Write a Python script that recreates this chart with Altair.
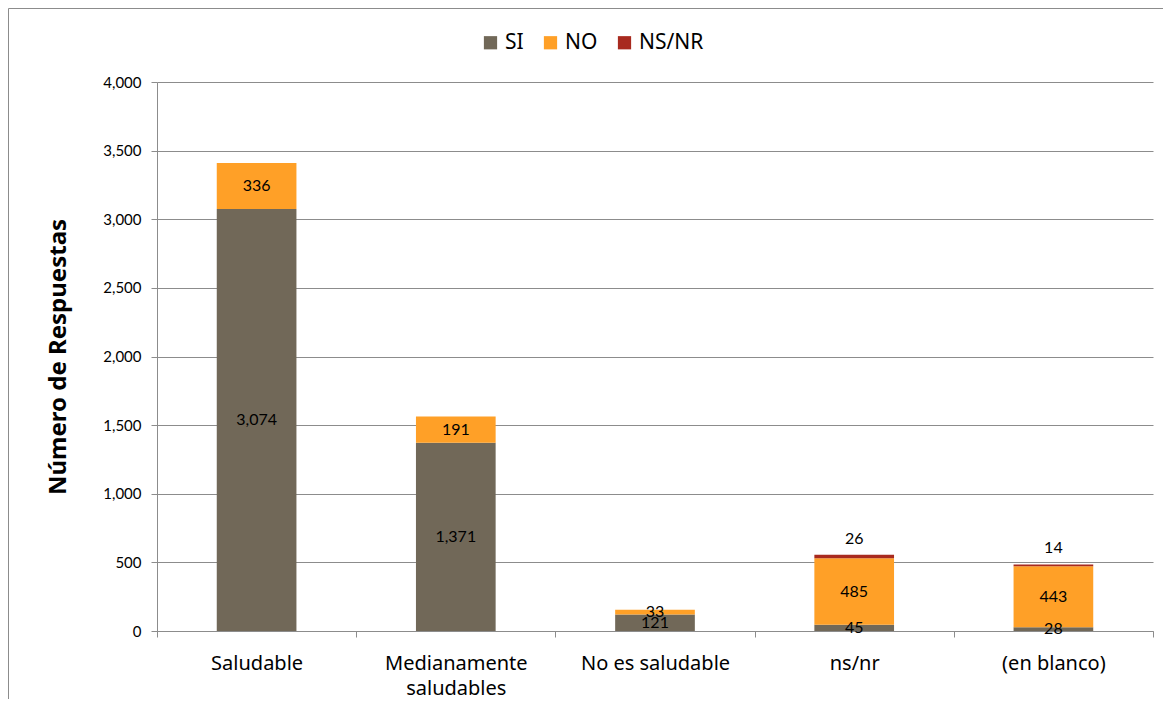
import altair as alt
import pandas as pd

categories = ["Saludable", "Medianamente\nsaludables", "No es saludable", "ns/nr", "(en blanco)"]
series = ["SI", "NO", "NS/NR"]
si_values = [3074, 1371, 121, 45, 28]
no_values = [336, 191, 33, 485, 443]
nsnr_values = [0, 0, 0, 26, 14]
y_ticks = [0, 500, 1000, 1500, 2000, 2500, 3000, 3500, 4000]
colors = ["#716858", "#FFA027", "#A82A1F"]

rows = []
for i, c in enumerate(categories):
    for j, (s, vals) in enumerate(zip(series, [si_values, no_values, nsnr_values])):
        if vals[i] > 0:
            rows.append({"cat": c, "serie": s, "valor": vals[i], "orden": j})
df = pd.DataFrame(rows)

gray = "#8c8c8c"

x_enc = alt.X(
    "cat:N",
    sort=categories,
    scale=alt.Scale(paddingInner=0, paddingOuter=0),
    axis=alt.Axis(
        title=None,
        labelAngle=0,
        tickBand="extent",
        labelExpr="split(datum.label, '\\n')",
        labelFontSize=20,
        labelFont="Noto Sans",
        labelColor="#000000",
        labelPadding=16,
        labelLineHeight=25,
        domainColor=gray,
        tickColor=gray,
        tickSize=6,
        labelBaseline="top",
    ),
)

bars = alt.Chart(df).mark_bar(width=alt.RelativeBandSize(0.4)).encode(
    x=x_enc,
    y=alt.Y(
        "valor:Q",
        stack="zero",
        scale=alt.Scale(domain=[0, 4000], nice=False),
        axis=alt.Axis(
            values=y_ticks,
            format=",d",
            title="Número de Respuestas",
            titleFont="Noto Sans",
            titleFontSize=24,
            titleFontWeight="bold",
            titleColor="#000000",
            titlePadding=32,
            labelFont="Lato",
            labelFontSize=15,
            labelColor="#000000",
            labelPadding=10,
            tickSize=6,
            tickColor=gray,
            domainColor=gray,
            gridColor=gray,
            gridOpacity=1,
        ),
    ),
    color=alt.Color(
        "serie:N",
        scale=alt.Scale(domain=series, range=colors),
        legend=alt.Legend(
            title=None,
            orient="none",
            direction="horizontal",
            legendX=323,
            legendY=-50,
            symbolType="square",
            symbolSize=175,
            symbolStrokeWidth=0,
            symbolOpacity=1,
            labelFontSize=21,
            labelFont="Noto Sans",
            labelColor="#000000",
            columnPadding=16,
            labelOffset=4,
        ),
    ),
    order=alt.Order("orden:Q"),
)

stacked = alt.Chart(df).transform_stack(
    stack="valor", groupby=["cat"], as_=["y0", "y1"], sort=[alt.SortField("orden")]
).transform_calculate(mid="(datum.y0 + datum.y1) / 2")

inner_labels = stacked.transform_filter("datum.serie != 'NS/NR'").mark_text(
    font="Lato", fontSize=16, color="#000000", baseline="middle"
).encode(
    x=alt.X("cat:N", sort=categories),
    y=alt.Y("mid:Q"),
    text=alt.Text("valor:Q", format=",d"),
)

top_labels = stacked.transform_filter("datum.serie == 'NS/NR'").mark_text(
    font="Lato", fontSize=16, color="#000000", baseline="middle", dy=-16
).encode(
    x=alt.X("cat:N", sort=categories),
    y=alt.Y("y1:Q"),
    text=alt.Text("valor:Q", format=",d"),
)

frame = alt.Chart(alt.Data(values=[{"a": 1}])).mark_rect(
    fillOpacity=0, stroke=gray, strokeWidth=1
).encode(
    x=alt.value(-148.5), x2=alt.value(1100), y=alt.value(-73.5), y2=alt.value(700)
)

chart = alt.layer(frame, bars, inner_labels, top_labels).properties(
    width=996,
    height=549,
    padding={"left": 149, "top": 74, "right": 10, "bottom": 68},
    autosize=alt.AutoSizeParams(type="none"),
    background="#ffffff",
).configure_view(strokeWidth=0)

chart.save("out.html", embed_options={"renderer": "svg", "actions": False})
